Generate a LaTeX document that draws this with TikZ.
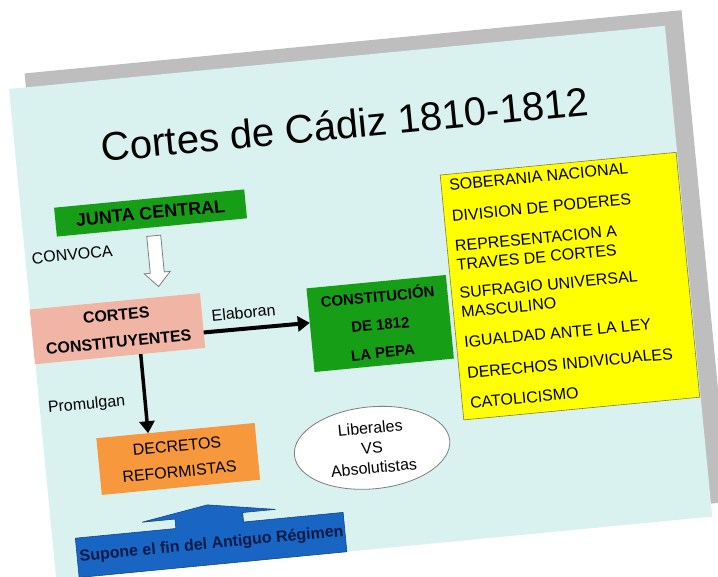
\documentclass[tikz,border=0pt]{standalone}
\usepackage{fontspec}
\setmainfont{Liberation Sans}
\usetikzlibrary{shapes.geometric, arrows.meta}

\definecolor{fondo}{RGB}{218,242,239}
\definecolor{sombra}{RGB}{190,190,190}
\definecolor{verde}{RGB}{22,158,22}
\definecolor{rosa}{RGB}{241,181,166}
\definecolor{naranja}{RGB}{247,152,60}
\definecolor{amarillo}{RGB}{255,255,0}
\definecolor{oliva}{RGB}{130,125,60}
\definecolor{azul}{RGB}{24,101,196}
\definecolor{marino}{RGB}{12,26,70}
\definecolor{gris}{RGB}{125,125,125}

\tikzset{
  caja/.style={rotate=5.5, inner sep=0pt, outer sep=0pt, align=center},
  item/.style={caja, anchor=west, align=left, font=\fontsize{16}{19}\selectfont},
  flecha/.style={-{Triangle[length=12pt,width=15pt]}}
}

\begin{document}
\begin{tikzpicture}[x=1pt,y=1pt,yscale=-1]
\clip (0,0) rectangle (718,577);
\fill[white] (0,0) rectangle (718,577);

\begin{scope}[shift={(9,89)}, rotate=-5.5]
%Shape: Rectangle [shadow]
\fill[sombra] (17,-14) rectangle (677,480);
%Shape: Rectangle [slide]
\fill[fondo] (0,0) rectangle (659,493);

% Text Node
\node[caja, font=\fontsize{40}{48}\selectfont] (titulo) at (331,67) {Cortes de Cádiz 1810-1812};

% Text Node
\node[caja, fill=verde, minimum width=191pt, minimum height=29pt, font=\bfseries\fontsize{18}{22}\selectfont] (junta) at (129,137) {JUNTA CENTRAL};
% Text Node
\node[caja, font=\fontsize{16}{19}\selectfont] (convoca) at (47,171) {CONVOCA};

%Shape: Hollow arrow
\draw[draw=gris, fill=white, line width=0.8pt] (123,160) -- (137,160) -- (137,197) -- (143,197) -- (130,211) -- (117,197) -- (123,197) -- cycle;

% Text Node
\node[caja, fill=rosa, minimum width=171pt, minimum height=55pt, font=\bfseries\fontsize{16}{27}\selectfont] (cortes) at (85,249) {CORTES\\CONSTITUYENTES};
% Text Node
\node[caja, font=\fontsize{16}{19}\selectfont] (elaboran) at (212,245) {Elaboran};

% Text Node
\node[caja, fill=verde, minimum width=140pt, minimum height=84pt, font=\bfseries\fontsize{15}{28}\selectfont] (consti) at (347,269) {CONSTITUCIÓN\\DE 1812\\LA PEPA};

%Shape: Rectangle [yellow list]
\node[caja, fill=amarillo, draw=oliva, line width=0.6pt, minimum width=237pt, minimum height=246pt] (principios) at (539.5,250) {};
\foreach \txt/\v in {SOBERANIA NACIONAL/138, DIVISION DE PODERES/169, {REPRESENTACION A\\TRAVES DE CORTES}/209, {SUFRAGIO UNIVERSAL\\MASCULINO}/256, IGUALDAD ANTE LA LEY/295.5, DERECHOS INDIVICUALES/327, CATOLICISMO/357}
  \node[item] at (429,\v) {\txt};

% Text Node
\node[caja, font=\fontsize{16}{19}\selectfont] (promulgan) at (47,322) {Promulgan};

% Text Node
\node[caja, fill=naranja, minimum width=159pt, minimum height=57pt, font=\fontsize{16}{26}\selectfont] (decretos) at (133,384.5) {DECRETOS\\REFORMISTAS};

% Text Node
\node[caja, ellipse, draw=gris, fill=white, line width=0.8pt, minimum width=156pt, minimum height=82pt, font=\fontsize{16}{20}\selectfont] (bandos) at (327,392) {Liberales\\VS\\Absolutistas};

%Shape: Up arrow callout
\draw[fill=azul, draw=azul!70!black, line width=0.6pt] (23,493) -- (23,453.5) -- (124,453.5) -- (124,444) -- (91,444) -- (157.5,433) -- (225,444) -- (192,444) -- (192,453.5) -- (292,453.5) -- (292,493) -- cycle;
% Text Node
\node[caja, text=marino, font=\bfseries\fontsize{16}{19}\selectfont] (fin) at (158,473) {Supone el fin del Antiguo Régimen};

% Connectors
\draw[flecha, line width=4pt] (cortes.-8) -- (consti.174);
\draw[flecha, line width=3.5pt] (cortes.-53) -- (decretos.134);
\end{scope}

\end{tikzpicture}
\end{document}
